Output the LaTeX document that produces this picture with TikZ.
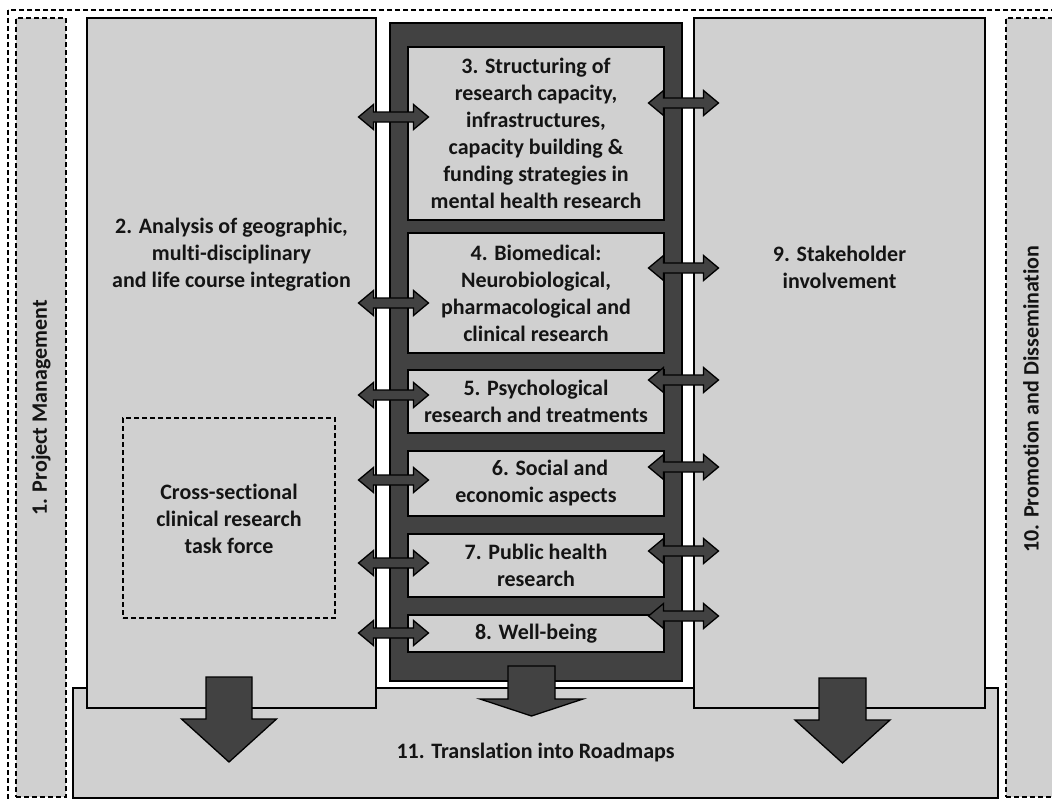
\documentclass[tikz,border=0pt]{standalone}
\usepackage{fontspec}
\setmainfont{Carlito}[Ligatures={NoCommon}]
\definecolor{lgray}{HTML}{D0D0D0}
\definecolor{dgray}{HTML}{424242}
\definecolor{txt}{HTML}{141414}
\newcommand\lblfont{\fontsize{22}{27}\selectfont\bfseries}
\tikzset{
  pics/dblarrow/.style={code={
    \draw[blockarrow] (-35,0) -- (-20,-12.5) -- (-20,-5) -- (20,-5) -- (20,-12.5) -- (35,0)
      -- (20,12.5) -- (20,5) -- (-20,5) -- (-20,12.5) -- cycle;}},
  pics/downarrow/.style n args={4}{code={
    \draw[blockarrow] (-#1,0) -- (#1,0) -- (#1,#2) -- (#3,#2) -- (0,#2+#4) -- (-#3,#2) -- (-#1,#2) -- cycle;}},
}
\begin{document}
\begin{tikzpicture}[x=1pt,y=-1pt,
  lbox/.style={draw=black, fill=lgray, line width=1.8pt, inner sep=0pt},
  dbox/.style={lbox, dash pattern=on 5pt off 3pt, line width=1.5pt},
  frame/.style={draw=black, fill=dgray, line width=1.5pt, inner sep=0pt},
  lbl/.style={font=\lblfont, align=center, text=txt, inner sep=0pt},
  blockarrow/.style={draw=black, fill=dgray, line width=1.3pt, line join=miter},
]
\useasboundingbox (0,0) rectangle (1052,800);
\clip (0,0) rectangle (1052,800);
% outer dashed frame
\draw[line width=1.5pt, dash pattern=on 5pt off 3pt] (8,10) rectangle (1064,802);
% side boxes
\node[dbox, minimum width=50pt, minimum height=779pt] (pm) at (41,407.5) {};
\node[lbl, rotate=90] (pmt) at (41,408) {1. Project Management};
\node[dbox, minimum width=50pt, minimum height=779pt] (pd) at (1031,407.5) {};
\node[lbl, rotate=90] (pdt) at (1031,399) {10. Promotion and Dissemination};
% box 11
\node[lbox, minimum width=925pt, minimum height=110pt] (b11) at (535.5,743) {};
\node[lbl] (t11) at (535.5,753) {11. Translation into Roadmaps};
% box 2 and 9
\node[lbox, minimum width=289pt, minimum height=690pt] (b2) at (231.5,363) {};
\node[lbl] (t2) at (231.5,255) {2. Analysis of geographic,\\multi-disciplinary\\and life course integration};
\node[lbox, minimum width=291pt, minimum height=690pt] (b9) at (839.5,363) {};
\node[lbl] (t9) at (839.5,267) {9. Stakeholder\\involvement};
% cross-sectional task force
\node[dbox, minimum width=212pt, minimum height=200pt] (cs) at (229,518) {};
\node[lbl] (cst) at (229,519) {Cross-sectional\\clinical research\\task force};
% central dark frame
\node[frame, minimum width=292pt, minimum height=658pt] (fr) at (536,352) {};
\node[lbox, lbl, minimum width=256pt, minimum height=173pt] (b3) at (536,133.5)
  {3. Structuring of\\research capacity,\\infrastructures,\\capacity building \&\\funding strategies in\\mental health research};
\node[lbox, lbl, minimum width=256pt, minimum height=120pt] (b4) at (536,293)
  {4. Biomedical:\\Neurobiological,\\pharmacological and\\clinical research};
\node[lbox, lbl, minimum width=256pt, minimum height=63pt] (b5) at (536,401.5)
  {5. Psychological\\research and treatments};
\node[lbox, lbl, minimum width=256pt, minimum height=65pt] (b6) at (536,483.5)
  {\hspace*{28pt}6. Social and\\economic aspects};
\node[lbox, lbl, minimum width=256pt, minimum height=63pt] (b7) at (536,565.5)
  {7. Public health\\research};
\node[lbox, lbl, minimum width=256pt, minimum height=37pt] (b8) at (536,633.5)
  {8. Well-being};
% double arrows, left side
\foreach \yy in {117,303,395,480,563,633} \pic at (393.5,\yy) {dblarrow};
% double arrows, right side
\foreach \yy in {103,268,380,467,551,616} \pic at (683.5,\yy) {dblarrow};
% down arrows
\pic at (229,677) {downarrow={23}{42}{47.5}{43}};
\pic at (531.5,666) {downarrow={23.5}{33}{51.5}{17}};
\pic at (842.5,678) {downarrow={23.5}{42}{47.5}{43}};
\end{tikzpicture}
\end{document}
